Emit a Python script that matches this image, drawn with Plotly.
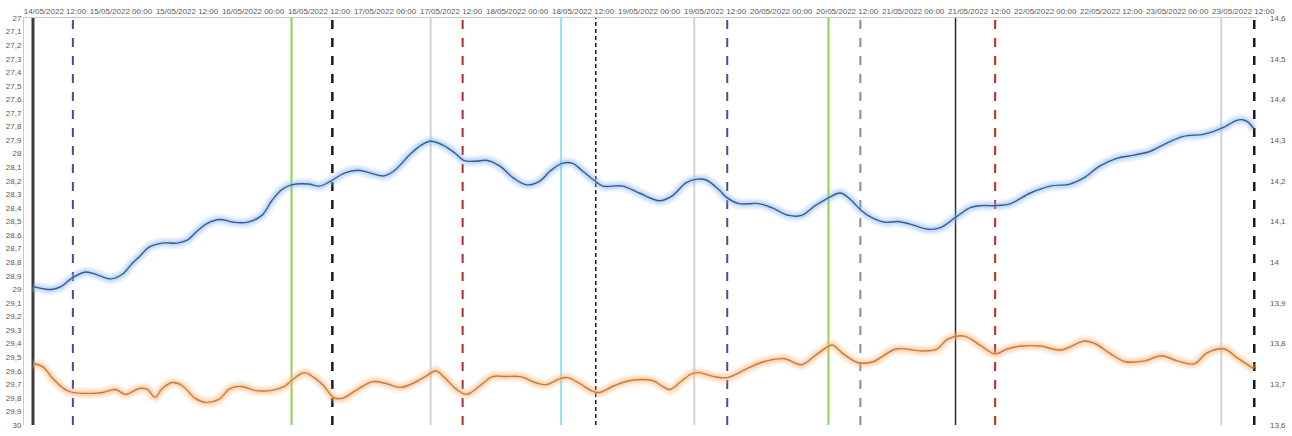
import pandas as pd
import plotly.graph_objects as go

START = pd.Timestamp("2022-05-14 08:00")

# Blue series (right axis), hours since 14/05/2022 08:00
BLUE_HOURS = [0.0, 1.8, 3.3, 5.1, 7.2, 9.6, 11.7, 14.1, 16.3, 18.1, 19.3, 21.1, 23.5, 26.2, 28.0,
              29.8, 31.6, 34.0, 36.5, 38.9, 41.6, 43.4, 45.2, 47.0, 50.1, 52.1, 54.2, 56.6, 59.1, 61.4,
              63.8, 65.6, 68.7, 70.5, 72.3, 74.6, 76.8, 78.3, 80.4, 82.6, 84.9, 87.3, 89.8, 92.2, 94.0,
              96.2, 98.1, 99.9, 102.1, 103.6, 107.2, 110.2, 113.9, 116.2, 118.7, 120.7, 122.4, 124.7, 126.2, 128.3,
              131.9, 134.3, 137.4, 139.7, 142.2, 144.6, 146.8, 148.7, 150.4, 152.4, 154.9, 157.2, 159.6, 162.7, 165.0,
              167.7, 170.4, 172.6, 174.9, 177.7, 181.3, 184.9, 188.5, 191.0, 193.9, 197.0, 200.1, 203.0, 206.0, 209.1,
              212.7, 214.5, 216.4, 218.7, 219.9, 221.0, 221.9]
BLUE_VALUES = [13.940, 13.935, 13.933, 13.940, 13.962, 13.976, 13.969, 13.959, 13.971, 13.998, 14.013, 14.037, 14.047, 14.047, 14.054,
               14.076, 14.095, 14.105, 14.098, 14.098, 14.115, 14.151, 14.178, 14.190, 14.192, 14.187, 14.200, 14.219, 14.226, 14.219,
               14.212, 14.224, 14.267, 14.287, 14.297, 14.287, 14.267, 14.250, 14.248, 14.250, 14.236, 14.207, 14.190, 14.200, 14.224,
               14.243, 14.243, 14.224, 14.200, 14.187, 14.187, 14.170, 14.151, 14.163, 14.195, 14.204, 14.202, 14.178, 14.158, 14.144,
               14.144, 14.134, 14.115, 14.115, 14.139, 14.158, 14.170, 14.153, 14.129, 14.110, 14.098, 14.100, 14.093, 14.081, 14.085,
               14.110, 14.134, 14.139, 14.139, 14.144, 14.170, 14.187, 14.192, 14.207, 14.236, 14.255, 14.263, 14.272, 14.292, 14.309,
               14.314, 14.321, 14.331, 14.348, 14.350, 14.343, 14.328]

# Orange series (left, reversed axis)
ORANGE_HOURS = [0.0, 1.8, 3.6, 5.8, 7.2, 10.3, 12.7, 15.0, 16.8, 19.3, 20.8, 22.2, 23.5, 25.3, 27.1,
                29.5, 31.3, 33.8, 35.8, 38.0, 40.3, 43.4, 45.7, 47.0, 49.3, 51.1, 52.8, 54.6, 56.2, 58.7,
                61.8, 64.2, 66.7, 69.0, 71.6, 73.2, 75.0, 76.8, 78.8, 81.3, 83.5, 85.8, 88.6, 91.3, 93.3,
                95.8, 97.2, 99.4, 101.4, 103.0, 105.7, 108.6, 112.6, 114.2, 115.8, 118.0, 119.8, 121.1, 123.8, 126.2,
                129.8, 132.8, 136.6, 139.7, 142.1, 144.4, 145.3, 147.3, 150.0, 152.7, 156.9, 161.6, 164.3, 166.3, 169.3,
                172.4, 174.9, 177.1, 179.8, 183.1, 186.9, 191.2, 193.2, 195.9, 198.6, 202.1, 205.1, 208.0, 211.1, 213.4,
                216.5, 218.9, 221.9]
ORANGE_VALUES = [29.549, 29.571, 29.658, 29.738, 29.760, 29.767, 29.760, 29.738, 29.774, 29.731, 29.738, 29.796, 29.731, 29.687, 29.709,
                 29.804, 29.833, 29.811, 29.731, 29.716, 29.745, 29.745, 29.716, 29.672, 29.614, 29.651, 29.709, 29.796, 29.804, 29.745,
                 29.680, 29.694, 29.723, 29.694, 29.636, 29.600, 29.658, 29.731, 29.774, 29.709, 29.643, 29.643, 29.643, 29.687, 29.702,
                 29.658, 29.651, 29.694, 29.745, 29.760, 29.709, 29.672, 29.672, 29.709, 29.738, 29.672, 29.622, 29.614, 29.643, 29.651,
                 29.585, 29.534, 29.512, 29.556, 29.490, 29.425, 29.410, 29.476, 29.541, 29.534, 29.440, 29.454, 29.440, 29.367, 29.345,
                 29.418, 29.476, 29.440, 29.418, 29.418, 29.447, 29.381, 29.403, 29.476, 29.534, 29.527, 29.490, 29.527, 29.549, 29.469,
                 29.440, 29.505, 29.585]

# Event markers (vertical lines)
EVENT_TIMES = ["2022-05-14 08:00", "2022-05-14 15:15", "2022-05-16 07:00", "2022-05-16 14:25",
               "2022-05-17 08:18", "2022-05-17 14:06", "2022-05-18 08:00", "2022-05-18 14:18",
               "2022-05-19 08:12", "2022-05-19 14:12", "2022-05-20 08:36", "2022-05-20 14:24",
               "2022-05-21 07:42", "2022-05-21 14:54", "2022-05-23 08:00", "2022-05-23 14:00"]
EVENT_STYLES = [("#3a3a3a", 3, "solid"), ("#4b4b8f", 2, "dash"), ("#92d050", 2, "solid"), ("#1a1a1a", 2.5, "dash"),
                ("#d4d4d4", 2, "solid"), ("#b22a2a", 2, "dash"), ("#8fe3f0", 2, "solid"), ("#1a1a1a", 1.5, "4px,3px"),
                ("#d4d4d4", 2, "solid"), ("#4b4b8f", 2, "dash"), ("#92d050", 2, "solid"), ("#8c8c8c", 2, "dash"),
                ("#2a2a2a", 1.5, "solid"), ("#d02020", 2, "dash"), ("#d4d4d4", 2, "solid"), ("#1a1a1a", 2.5, "dash")]

blue_t = START + pd.to_timedelta(BLUE_HOURS, unit="h")
orange_t = START + pd.to_timedelta(ORANGE_HOURS, unit="h")

fig = go.Figure()
# soft glows
for w, a in [(12, 0.15), (8, 0.22), (4.5, 0.30)]:
    fig.add_trace(go.Scatter(x=orange_t, y=ORANGE_VALUES, mode="lines", yaxis="y",
                             line=dict(color=f"rgba(250,180,120,{a})", width=w, shape="spline"),
                             hoverinfo="skip", showlegend=False))
    fig.add_trace(go.Scatter(x=blue_t, y=BLUE_VALUES, mode="lines", yaxis="y2",
                             line=dict(color=f"rgba(140,185,240,{a})", width=w, shape="spline"),
                             hoverinfo="skip", showlegend=False))
# main lines
fig.add_trace(go.Scatter(x=orange_t, y=ORANGE_VALUES, mode="lines", yaxis="y",
                         line=dict(color="#c97a3a", width=1.4, shape="spline"), showlegend=False))
fig.add_trace(go.Scatter(x=blue_t, y=BLUE_VALUES, mode="lines", yaxis="y2",
                         line=dict(color="#3b5a92", width=1.4, shape="spline"), showlegend=False))

for t, (c, w, d) in zip(EVENT_TIMES, EVENT_STYLES):
    fig.add_shape(type="line", xref="x", yref="paper", x0=t, x1=t, y0=0, y1=1,
                  line=dict(color=c, width=w, dash=d), layer="below")

tick_font = dict(family="Liberation Sans, Arial, sans-serif", size=8, color="#595959")

fig.update_layout(
    width=1292, height=436,
    margin=dict(l=21, r=31, t=18, b=6),
    paper_bgcolor="white", plot_bgcolor="white",
    separators=", ",
    showlegend=False,
    xaxis=dict(type="date", side="top", range=["2022-05-14 06:22", "2022-05-23 14:30"],
               tick0="2022-05-14 12:00", dtick=12 * 3600 * 1000, tickformat="%d/%m/%Y %H:%M",
               showgrid=False, zeroline=False, showline=True, linecolor="#c8c8c8", linewidth=1,
               ticks="", tickfont=tick_font),
    yaxis=dict(range=[30, 27], dtick=0.1, tick0=27, showgrid=False, zeroline=False,
               showline=True, linecolor="#c8c8c8", linewidth=1, ticks="", tickfont=tick_font),
    yaxis2=dict(range=[13.6, 14.6], dtick=0.1, tick0=13.6, overlaying="y", side="right",
                showgrid=False, zeroline=False, showline=False, ticks="", tickfont=tick_font,
                ticklabelstandoff=12),
)

fig.write_html("out.html")
